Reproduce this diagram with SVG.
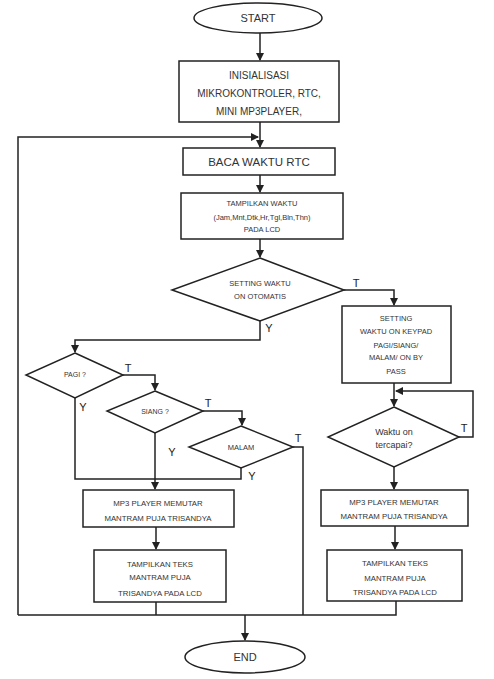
<svg xmlns="http://www.w3.org/2000/svg" width="494" height="679" viewBox="0 0 494 679">
<style>
.s{fill:#fff;stroke:#222;stroke-width:1.5}
.c{fill:none;stroke:#222;stroke-width:1.5}
text{font-family:"Liberation Sans",Arial,sans-serif;fill:#333;text-anchor:middle}
.l{font-size:11px;fill:#222}
</style>
<defs>
<marker id="a" viewBox="0 0 8 8" refX="7" refY="4" markerWidth="8" markerHeight="8" markerUnits="userSpaceOnUse" orient="auto">
<path d="M0,0 L8,4 L0,8 Z" fill="#222"/>
</marker>
</defs>
<g id="connectors">
<path class="c" d="M260,33 V60" marker-end="url(#a)"/>
<path class="c" d="M260,122 V147" marker-end="url(#a)"/>
<path class="c" d="M18,615 V137 H258" marker-end="url(#a)"/>
<path class="c" d="M260,175 V192" marker-end="url(#a)"/>
<path class="c" d="M260,239 V257" marker-end="url(#a)"/>
<path class="c" d="M344,290 H394 V305" marker-end="url(#a)"/>
<path class="c" d="M260,321 V340 H75 V352" marker-end="url(#a)"/>
<path class="c" d="M123,375 H155 V390" marker-end="url(#a)"/>
<path class="c" d="M203,411 H242 V425" marker-end="url(#a)"/>
<path class="c" d="M75,398 V479 H241 V468"/>
<path class="c" d="M155,433 V489" marker-end="url(#a)"/>
<path class="c" d="M293,447 H303 V615"/>
<path class="c" d="M156,527 V549" marker-end="url(#a)"/>
<path class="c" d="M156,602 V615"/>
<path class="c" d="M18,615 H396 V601"/>
<path class="c" d="M245,615 V640" marker-end="url(#a)"/>
<path class="c" d="M394,383 V406" marker-end="url(#a)"/>
<path class="c" d="M459,437 H473 V391 H396" marker-end="url(#a)"/>
<path class="c" d="M394,467 V489" marker-end="url(#a)"/>
<path class="c" d="M395,526 V549" marker-end="url(#a)"/>
<text class="l" x="356" y="287">T</text>
<text class="l" x="269" y="332">Y</text>
<text class="l" x="128" y="372">T</text>
<text class="l" x="83" y="411">Y</text>
<text class="l" x="208" y="407">T</text>
<text class="l" x="172" y="456">Y</text>
<text class="l" x="298" y="442">T</text>
<text class="l" x="252" y="480">Y</text>
<text class="l" x="464" y="432">T</text>
</g>
<g id="start">
<ellipse class="s" cx="258" cy="18" rx="64" ry="15"/>
<text x="258" y="22" font-size="11">START</text>
</g>
<g id="init">
<rect class="s" x="179" y="61" width="160" height="61"/>
<text x="259" y="79" font-size="10">INISIALISASI</text>
<text x="259" y="97" font-size="10">MIKROKONTROLER, RTC,</text>
<text x="259" y="115" font-size="10">MINI MP3PLAYER,</text>
</g>
<g id="baca">
<rect class="s" x="183" y="148" width="152" height="27"/>
<text x="259" y="166" font-size="11.5">BACA WAKTU RTC</text>
</g>
<g id="tampil">
<rect class="s" x="181" y="193" width="162" height="46"/>
<text x="262" y="206" font-size="7.5">TAMPILKAN WAKTU</text>
<text x="262" y="220" font-size="7.5">(Jam,Mnt,Dtk,Hr,Tgl,Bln,Thn)</text>
<text x="262" y="232" font-size="7.5">PADA LCD</text>
</g>
<g id="setting">
<polygon class="s" points="260,258 344,290 260,321 172,290"/>
<text x="260" y="286" font-size="7.5">SETTING WAKTU</text>
<text x="260" y="299" font-size="7.5">ON OTOMATIS</text>
</g>
<g id="keypad">
<rect class="s" x="342" y="306" width="109" height="77"/>
<text x="396" y="321" font-size="7.5">SETTING</text>
<text x="396" y="334" font-size="7.5">WAKTU ON KEYPAD</text>
<text x="396" y="348" font-size="7.5">PAGI/SIANG/</text>
<text x="396" y="360" font-size="7.5">MALAM/ ON BY</text>
<text x="396" y="374" font-size="7.5">PASS</text>
</g>
<g id="pagi">
<polygon class="s" points="75,353 123,375 75,398 26,375"/>
<text x="75" y="377" font-size="7">PAGI  ?</text>
</g>
<g id="siang">
<polygon class="s" points="155,391 203,411 155,433 107,411"/>
<text x="155" y="414" font-size="7">SIANG  ?</text>
</g>
<g id="malam">
<polygon class="s" points="241,426 293,447 241,468 189,447"/>
<text x="241" y="450" font-size="7.5">MALAM</text>
</g>
<g id="waktu">
<polygon class="s" points="394,407 459,437 394,467 328,437"/>
<text x="394" y="435" font-size="9">Waktu on</text>
<text x="394" y="448" font-size="9">tercapai?</text>
</g>
<g id="mp3left">
<rect class="s" x="83" y="490" width="151" height="37"/>
<text x="158" y="506" font-size="7.8">MP3 PLAYER MEMUTAR</text>
<text x="158" y="521" font-size="7.8">MANTRAM PUJA TRISANDYA</text>
</g>
<g id="mp3right">
<rect class="s" x="321" y="490" width="147" height="36"/>
<text x="394" y="505" font-size="7.8">MP3 PLAYER MEMUTAR</text>
<text x="394" y="519" font-size="7.8">MANTRAM PUJA TRISANDYA</text>
</g>
<g id="teksleft">
<rect class="s" x="94" y="550" width="132" height="52"/>
<text x="160" y="567" font-size="7.8">TAMPILKAN TEKS</text>
<text x="160" y="580" font-size="7.8">MANTRAM PUJA</text>
<text x="160" y="596" font-size="7.8">TRISANDYA PADA LCD</text>
</g>
<g id="teksright">
<rect class="s" x="327" y="550" width="135" height="51"/>
<text x="395" y="566" font-size="7.8">TAMPILKAN TEKS</text>
<text x="395" y="581" font-size="7.8">MANTRAM PUJA</text>
<text x="395" y="595" font-size="7.8">TRISANDYA PADA LCD</text>
</g>
<g id="end">
<ellipse class="s" cx="245" cy="657" rx="60" ry="16"/>
<text x="245" y="661" font-size="11">END</text>
</g>
</svg>
